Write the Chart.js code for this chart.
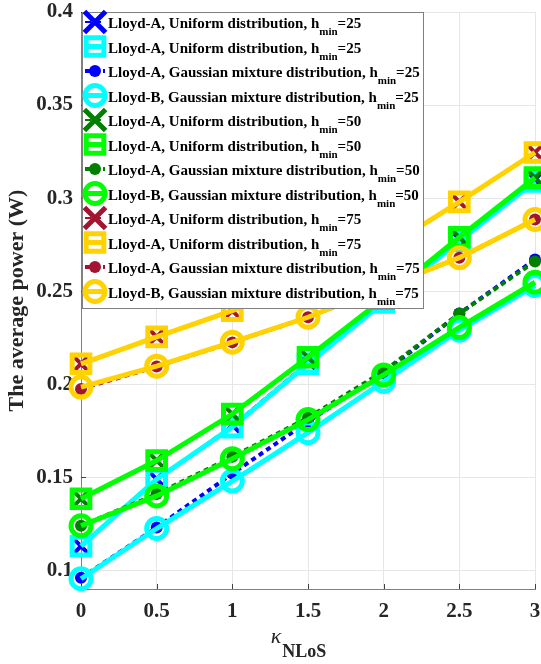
<!DOCTYPE html>
<html>
<head>
<meta charset="utf-8">
<script src="https://cdn.jsdelivr.net/npm/chart.js@4.4.1/dist/chart.umd.min.js"></script>
<style>
  html, body { margin: 0; padding: 0; background: #fff; }
  #wrap { width: 541px; height: 664px; }
</style>
</head>
<body>
<div id="wrap"><canvas id="powerChart" width="541" height="664"></canvas></div>
<script>
// x axis values (kappa_NLoS) and tick labels
const kappa = [0, 0.5, 1, 1.5, 2, 2.5, 3];
const xTicks = [0, 0.5, 1, 1.5, 2, 2.5, 3];
const xTickLabels = ['0', '0.5', '1', '1.5', '2', '2.5', '3'];
const yTicks = [0.1, 0.15, 0.2, 0.25, 0.3, 0.35, 0.4];
const yTickLabels = ['0.1', '0.15', '0.2', '0.25', '0.3', '0.35', '0.4'];

// legend names (each repeated for h_min = 25, 50, 75)
const seriesNames = [
  'Lloyd-A, Uniform distribution',
  'Lloyd-A, Uniform distribution',
  'Lloyd-A, Gaussian mixture distribution',
  'Lloyd-B, Gaussian mixture distribution'
];
const hminValues = [25, 50, 75];

// average power (W)
const uniA25 = [0.113, 0.149, 0.178, 0.212, 0.245, 0.278, 0.310];
const uniB25 = [0.113, 0.149, 0.177, 0.211, 0.244, 0.277, 0.309];
const gauA25 = [0.096, 0.123, 0.152, 0.180, 0.206, 0.238, 0.267];
const gauB25 = [0.0955, 0.1225, 0.148, 0.174, 0.2015, 0.229, 0.253];

const uniA50 = [0.1385, 0.159, 0.184, 0.2145, 0.246, 0.279, 0.311];
const uniB50 = [0.1385, 0.159, 0.184, 0.2145, 0.246, 0.279, 0.311];
const gauA50 = [0.124, 0.141, 0.161, 0.182, 0.207, 0.238, 0.266];
const gauB50 = [0.124, 0.140, 0.160, 0.181, 0.205, 0.2305, 0.2548];

const uniA75 = [0.211, 0.2255, 0.2395, 0.256, 0.2725, 0.298, 0.3245];
const uniB75 = [0.211, 0.2255, 0.2395, 0.256, 0.2725, 0.298, 0.3245];
const gauA75 = [0.1975, 0.2095, 0.2225, 0.236, 0.252, 0.268, 0.2885];
const gauB75 = [0.1985, 0.2097, 0.2226, 0.236, 0.252, 0.268, 0.2885];

const values = [
  [uniA25, uniB25, gauA25, gauB25],
  [uniA50, uniB50, gauA50, gauB50],
  [uniA75, uniB75, gauA75, gauB75]
];
// [dark colour for Lloyd-A, bright colour for Lloyd-B]
const colours = [
  ['#0000ff', '#00ffff'],
  ['#007f00', '#00ff00'],
  ['#a2142f', '#ffd200']
];

const FONT = '"Liberation Serif", "Times New Roman", serif';

// style for each of the 4 kinds of curve
function styleFor(kind, dark, bright) {
  if (kind === 0) return { borderColor: dark, borderWidth: 2, borderDash: [6, 4], pointStyle: 'crossRot', pointRadius: 10, pointBorderWidth: 4, pointBackgroundColor: dark };
  if (kind === 1) return { borderColor: bright, borderWidth: 5, borderDash: [], pointStyle: 'rect', pointRadius: 12.5, pointBorderWidth: 5, pointBackgroundColor: 'rgba(0,0,0,0)' };
  if (kind === 2) return { borderColor: dark, borderWidth: 4, borderDash: [5, 4], pointStyle: 'circle', pointRadius: 6, pointBorderWidth: 0, pointBackgroundColor: dark };
  return { borderColor: bright, borderWidth: 5, borderDash: [], pointStyle: 'circle', pointRadius: 10, pointBorderWidth: 5, pointBackgroundColor: 'rgba(0,0,0,0)' };
}

const datasets = [];
hminValues.forEach((h, gi) => {
  seriesNames.forEach((name, k) => {
    const st = styleFor(k, colours[gi][0], colours[gi][1]);
    datasets.push(Object.assign({
      label: name + ', h_min=' + h,
      legendName: name,
      hmin: h,
      data: values[gi][k].map((v, i) => ({ x: kappa[i], y: v })),
      pointBorderColor: st.borderColor,
      pointHoverRadius: st.pointRadius,
      fill: false,
      tension: 0,
      clip: false,
      order: 100 - datasets.length
    }, st));
  });
});

function drawMarker(ctx, ds, x, y) {
  const cross = ds.pointStyle === 'crossRot';
  const r = ds.pointRadius * (cross ? 1.5 : 1);
  ctx.save();
  ctx.setLineDash([]);
  ctx.strokeStyle = ds.pointBorderColor;
  ctx.fillStyle = ds.pointBackgroundColor;
  ctx.lineWidth = cross ? 5 : ds.pointBorderWidth;
  ctx.beginPath();
  if (cross) {
    const d = r * Math.SQRT1_2;
    ctx.moveTo(x - d, y - d); ctx.lineTo(x + d, y + d);
    ctx.moveTo(x - d, y + d); ctx.lineTo(x + d, y - d);
    ctx.stroke();
  } else if (ds.pointStyle === 'rect') {
    const s = r * Math.SQRT1_2;
    ctx.rect(x - s, y - s, 2 * s, 2 * s);
    ctx.stroke();
  } else {
    ctx.arc(x, y, r, 0, Math.PI * 2);
    ctx.fill();
    if (ds.pointBorderWidth > 0) ctx.stroke();
  }
  ctx.restore();
}

// inward tick marks like the original axes
const innerTicks = {
  id: 'innerTicks',
  beforeDatasetsDraw(chart) {
    const { ctx, chartArea: a, scales } = chart;
    ctx.save();
    ctx.strokeStyle = '#404040';
    ctx.lineWidth = 1;
    ctx.beginPath();
    xTicks.forEach(v => {
      const px = Math.round(scales.x.getPixelForValue(v)) + 0.5;
      ctx.moveTo(px, a.bottom); ctx.lineTo(px, a.bottom - 5);
    });
    yTicks.forEach(v => {
      const py = Math.round(scales.y.getPixelForValue(v)) + 0.5;
      ctx.moveTo(a.left, py); ctx.lineTo(a.left + 5, py);
    });
    ctx.stroke();
    ctx.restore();
  }
};

// x-axis title with subscript
const xTitle = {
  id: 'xTitle',
  afterDraw(chart) {
    const { ctx, chartArea: a } = chart;
    ctx.save();
    ctx.fillStyle = '#262626';
    ctx.textBaseline = 'alphabetic';
    ctx.font = 'italic 22px ' + FONT;
    const k = 'κ';
    const kw = ctx.measureText(k).width;
    ctx.font = 'bold 18px ' + FONT;
    const sw = ctx.measureText('NLoS').width;
    const x0 = (a.left + a.right) / 2 - 10 - (kw + sw) / 2;
    ctx.font = 'italic 22px ' + FONT;
    ctx.fillText(k, x0, a.bottom + 54);
    ctx.font = 'bold 18px ' + FONT;
    ctx.fillText('NLoS', x0 + kw + 1, a.bottom + 68);
    ctx.restore();
  }
};

// boxed legend with h_min subscripts
const boxLegend = {
  id: 'boxLegend',
  afterDraw(chart) {
    const { ctx, chartArea: a } = chart;
    const x0 = a.left + 1, y0 = a.top, w = 341, h = 296;
    ctx.save();
    ctx.fillStyle = '#ffffff';
    ctx.fillRect(x0, y0, w, h);
    ctx.strokeStyle = '#808080';
    ctx.lineWidth = 1;
    ctx.strokeRect(x0 + 0.5, y0 + 0.5, w, h);
    chart.data.datasets.forEach((ds, i) => {
      const cy = y0 + 10 + 24.5 * i;
      const mx = x0 + 13;
      // line stub
      ctx.save();
      ctx.strokeStyle = ds.borderColor;
      ctx.lineWidth = ds.borderWidth;
      ctx.setLineDash(ds.borderDash || []);
      ctx.beginPath();
      ctx.moveTo(mx - 10, cy); ctx.lineTo(mx + 10, cy);
      ctx.stroke();
      ctx.restore();
      drawMarker(ctx, ds, mx, cy);
      // text
      const base = cy + 6;
      let tx = x0 + 26;
      ctx.fillStyle = '#000';
      ctx.textBaseline = 'alphabetic';
      ctx.font = 'bold 15px ' + FONT;
      const main = ds.legendName + ', h';
      ctx.fillText(main, tx, base);
      tx += ctx.measureText(main).width;
      ctx.font = 'bold 11px ' + FONT;
      ctx.fillText('min', tx, base + 7);
      tx += ctx.measureText('min').width;
      ctx.font = 'bold 15px ' + FONT;
      ctx.fillText('=' + ds.hmin, tx, base);
    });
    ctx.restore();
  }
};

new Chart(document.getElementById('powerChart').getContext('2d'), {
  type: 'line',
  data: { datasets },
  options: {
    responsive: false,
    devicePixelRatio: 1,
    animation: false,
    layout: { autoPadding: false, padding: { top: 12, right: 6, left: 0, bottom: 0 } },
    plugins: { legend: { display: false }, tooltip: { enabled: false } },
    scales: {
      x: {
        type: 'linear',
        min: 0,
        max: 3,
        afterBuildTicks: s => { s.ticks = xTicks.map(v => ({ value: v })); },
        afterFit: s => { s.height = 75; s.paddingLeft = 0; s.paddingRight = 0; },
        grid: { color: '#e6e6e6', lineWidth: 1, drawTicks: false },
        border: { display: true, color: '#808080', width: 1 },
        ticks: {
          padding: 10,
          color: '#262626',
          font: { family: FONT, size: 21, weight: 'bold' },
          maxRotation: 0,
          callback: v => xTickLabels[xTicks.indexOf(v)]
        }
      },
      y: {
        type: 'linear',
        min: 0.09,
        max: 0.4,
        afterBuildTicks: s => { s.ticks = yTicks.map(v => ({ value: v })); },
        afterFit: s => { s.width = 81; s.paddingTop = 0; s.paddingBottom = 0; },
        grid: { color: '#e6e6e6', lineWidth: 1, drawTicks: false },
        border: { display: true, color: '#808080', width: 1 },
        title: {
          display: true,
          text: 'The average power (W)',
          color: '#262626',
          font: { family: FONT, size: 22, weight: 'bold' },
          padding: { top: 4, bottom: 0 }
        },
        ticks: {
          padding: 8,
          color: '#262626',
          font: { family: FONT, size: 21, weight: 'bold' },
          callback: v => {
            const i = yTicks.findIndex(t => Math.abs(t - v) < 1e-9);
            return i >= 0 ? yTickLabels[i] : '';
          }
        }
      }
    }
  },
  plugins: [innerTicks, xTitle, boxLegend]
});
</script>
</body>
</html>
